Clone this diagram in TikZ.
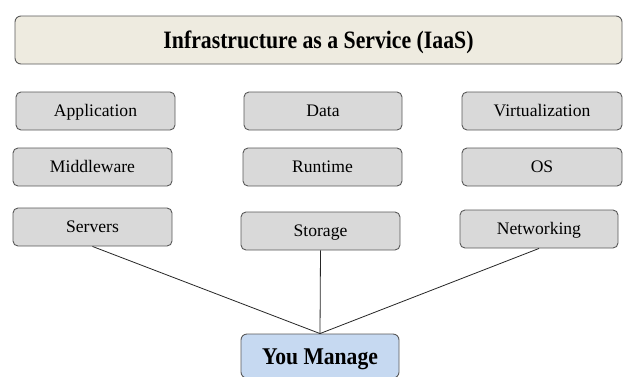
\documentclass[tikz,border=0pt]{standalone}
\usepackage{fontspec}
\setmainfont{Liberation Serif}
\definecolor{titlefill}{HTML}{EEEBE0}
\definecolor{boxfill}{HTML}{D9D9D9}
\definecolor{boxdraw}{HTML}{595959}
\definecolor{youfill}{HTML}{C6D9F1}
\begin{document}
\begin{tikzpicture}[x=1pt,y=-1pt,
  layerbox/.style={draw=boxdraw, fill=boxfill, line width=0.9pt, rounded corners=5pt,
    minimum height=38pt, inner sep=0pt, text height=11.5pt, text depth=0pt,
    font=\fontsize{17.6}{20}\selectfont},
  titlebox/.style={draw=boxdraw, fill=titlefill, line width=0.9pt, rounded corners=6pt,
    minimum width=607pt, minimum height=48pt, inner sep=0pt, text height=17pt, text depth=0pt},
  youbox/.style={draw=boxdraw, fill=youfill, line width=0.9pt, rounded corners=6pt,
    minimum width=158pt, minimum height=44pt, inner sep=0pt, text height=16pt, text depth=0pt},
  link/.style={draw=black!85, line width=0.8pt}]
\clip (0,0) rectangle (628,376);
\fill[white] (0,0) rectangle (628,376);
\node[titlebox] (title) at (318.5,40) {\fontsize{25}{28}\selectfont\scalebox{0.87}[1]{\bfseries Infrastructure as a Service (IaaS)}};
\node[layerbox, minimum width=159pt] (app) at (95.5,111) {Application};
\node[layerbox, minimum width=158pt] (data) at (323,111) {Data};
\node[layerbox, minimum width=160pt] (virt) at (542,111) {Virtualization};
\node[layerbox, minimum width=159pt] (mid) at (92.5,167) {Middleware};
\node[layerbox, minimum width=159pt] (run) at (322.5,167) {Runtime};
\node[layerbox, minimum width=160pt] (os) at (542,167) {OS};
\node[layerbox, minimum width=159pt] (serv) at (92.5,227) {Servers};
\node[layerbox, minimum width=159pt] (stor) at (320.5,231) {Storage};
\node[layerbox, minimum width=158pt] (net) at (539,229) {Networking};
\node[youbox] (you) at (320,356) {\fontsize{24}{28}\selectfont\scalebox{0.9}[1]{\bfseries You Manage}};
\draw[link] (serv.south) -- (you.north);
\draw[link] (stor.south) -- (you.north);
\draw[link] (net.south) -- (you.north);
\end{tikzpicture}
\end{document}
